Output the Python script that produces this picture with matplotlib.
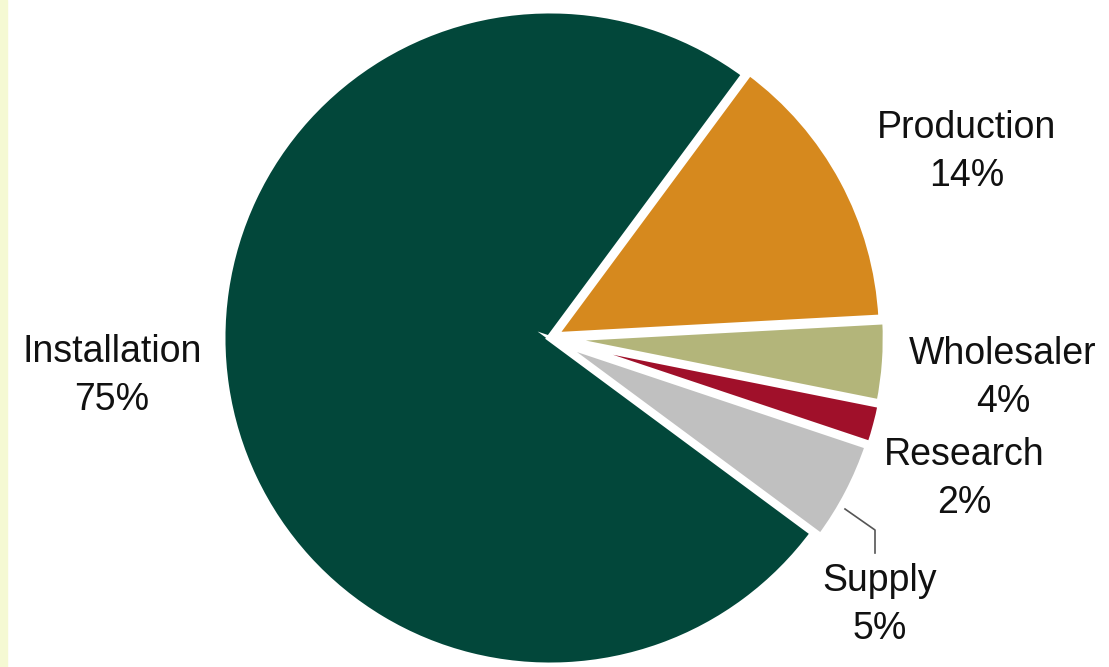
import matplotlib.pyplot as plt

# Share of jobs by segment
segments = ['Installation', 'Supply', 'Research', 'Wholesaler', 'Production']
shares = [75, 5, 2, 4, 14]
colors = ['#02473a', '#c0c0c0', '#a0102a', '#b3b57a', '#d6891e']

W, H = 1109, 667
cx, cy, R = 550, 338, 328  # pie centre / radius in image pixels


def px(x, y):
    # image pixel -> data coords (pie radius = 1)
    return (x - cx) / R, (cy - y) / R


plt.rcParams['font.family'] = ['Liberation Sans', 'DejaVu Sans']

fig = plt.figure(figsize=(W / 100, H / 100), dpi=100)
fig.patch.set_facecolor('white')
ax = fig.add_axes([0, 0, 1, 1])

# light yellow stripe on the left edge
fig.patches.append(plt.Rectangle((0, 0), 7 / W, 1, transform=fig.transFigure,
                                 color='#f5f9d3', zorder=0))

explode = [0, 0.025, 0.03, 0.025, 0.015]
ax.pie(shares, colors=colors, startangle=53.5, counterclock=True,
       explode=explode, radius=1,
       wedgeprops=dict(edgecolor='white', linewidth=5))

ax.set_xlim(-cx / R, (W - cx) / R)
ax.set_ylim(-(H - cy) / R, cy / R)
ax.set_aspect('equal')
ax.axis('off')

# label positions in image pixels
label_pos = {
    'Installation': (112, 376),
    'Production': (967, 152),
    'Wholesaler': (1003, 378),
    'Research': (964, 479),
    'Supply': (880, 605),
}
for name, val in zip(segments, shares):
    x, y = px(*label_pos[name])
    ax.text(x, y, f'{name}\n{val}%', ha='center', va='center',
            multialignment='center', fontsize=27, linespacing=1.45,
            color='#111111')

# leader line for Supply
lx, ly = zip(px(845, 509), px(875, 530), px(875, 553))
ax.plot(lx, ly, color='#555555', linewidth=1.2)

fig.savefig('out.png', dpi=100)
